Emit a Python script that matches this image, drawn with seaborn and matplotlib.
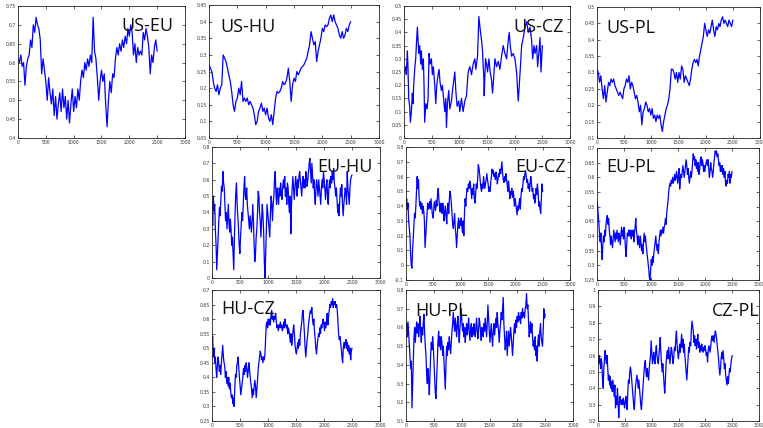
import numpy as np
import pandas as pd
import matplotlib
matplotlib.use("Agg")
import matplotlib.pyplot as plt
import seaborn as sns

# Rolling correlations between equity markets, by trading day (0..2500).
# Most series are sampled at evenly spaced days; US-CZ carries its own days.

US_EU = [0.61,0.60,0.62,0.59,0.60,0.54,0.59,0.61,0.62,0.66,
         0.64,0.70,0.68,0.72,0.70,0.69,0.66,0.57,0.61,0.58,
         0.55,0.50,0.56,0.52,0.49,0.53,0.46,0.51,0.45,0.49,
         0.52,0.47,0.53,0.48,0.51,0.45,0.50,0.44,0.49,0.53,
         0.47,0.51,0.48,0.53,0.50,0.55,0.58,0.56,0.60,0.58,
         0.61,0.59,0.62,0.60,0.72,0.63,0.61,0.56,0.50,0.55,
         0.58,0.55,0.57,0.49,0.43,0.50,0.55,0.52,0.57,0.56,
         0.61,0.64,0.62,0.65,0.63,0.66,0.64,0.67,0.65,0.69,
         0.67,0.70,0.68,0.62,0.65,0.60,0.64,0.62,0.63,0.62,
         0.68,0.66,0.69,0.67,0.64,0.57,0.62,0.60,0.64,0.66,
         0.63]

US_HU = [0.27,0.26,0.25,0.22,0.20,0.19,0.21,0.18,0.20,0.21,
         0.30,0.29,0.28,0.26,0.24,0.22,0.19,0.15,0.13,0.16,
         0.17,0.20,0.18,0.22,0.16,0.17,0.16,0.17,0.15,0.16,
         0.15,0.14,0.12,0.09,0.10,0.13,0.14,0.155,0.13,0.14,
         0.12,0.14,0.11,0.10,0.12,0.09,0.13,0.17,0.19,0.185,
         0.19,0.20,0.22,0.21,0.215,0.23,0.26,0.22,0.16,0.21,
         0.23,0.22,0.25,0.24,0.25,0.26,0.265,0.27,0.28,0.29,
         0.31,0.33,0.37,0.35,0.33,0.34,0.28,0.31,0.33,0.35,
         0.38,0.37,0.39,0.385,0.39,0.41,0.42,0.40,0.42,0.40,
         0.39,0.38,0.36,0.35,0.37,0.35,0.36,0.38,0.37,0.39,
         0.40]

US_CZ_DAYS = [0,30,42,60,72,85,103,115,133,151,
              163,175,193,211,223,242,266,284,302,314,
              332,350,362,374,393,417,435,453,471,495,
              513,531,556,574,592,616,634,652,676,694,
              719,737,755,767,785,809,827,857,888,918,
              936,960,990,1008,1039,1069,1099,1129,1159,1190,
              1220,1250,1280,1298,1329,1353,1383,1401,1419,1431,
              1443,1449,1473,1492,1510,1534,1558,1582,1600,1618,
              1643,1673,1703,1733,1763,1793,1824,1854,1884,1902,
              1920,1944,1975,2005,2035,2053,2065,2083,2107,2126,
              2156,2186,2216,2246,2277,2307,2325,2349,2367,2397,
              2415,2440,2458,2476,2500]
US_CZ = [0.25,0.27,0.24,0.33,0.27,0.15,0.12,0.06,0.10,0.17,
         0.13,0.20,0.26,0.30,0.35,0.42,0.32,0.35,0.28,0.33,
         0.26,0.30,0.20,0.06,0.13,0.11,0.15,0.32,0.28,0.30,
         0.24,0.27,0.20,0.13,0.20,0.24,0.26,0.21,0.18,0.20,
         0.14,0.10,0.15,0.04,0.13,0.18,0.11,0.14,0.20,0.25,
         0.18,0.12,0.14,0.10,0.15,0.10,0.14,0.16,0.25,0.27,
         0.24,0.28,0.30,0.26,0.31,0.46,0.40,0.37,0.33,0.27,
         0.23,0.16,0.30,0.28,0.25,0.30,0.25,0.22,0.17,0.22,
         0.30,0.27,0.29,0.26,0.31,0.35,0.32,0.30,0.37,0.40,
         0.35,0.31,0.32,0.30,0.25,0.18,0.14,0.20,0.28,0.35,
         0.38,0.42,0.44,0.40,0.42,0.37,0.30,0.35,0.32,0.35,
         0.27,0.33,0.38,0.25,0.35]

US_PL = [0.31,0.30,0.27,0.29,0.25,0.22,0.26,0.21,0.24,0.27,
         0.26,0.28,0.27,0.28,0.26,0.25,0.24,0.23,0.24,0.23,
         0.22,0.25,0.26,0.28,0.27,0.29,0.25,0.27,0.26,0.24,
         0.22,0.23,0.21,0.18,0.20,0.14,0.18,0.19,0.21,0.20,
         0.18,0.19,0.17,0.19,0.16,0.17,0.15,0.17,0.16,0.17,
         0.14,0.12,0.15,0.17,0.19,0.20,0.22,0.25,0.31,0.31,
         0.30,0.28,0.30,0.27,0.30,0.28,0.32,0.31,0.27,0.29,
         0.28,0.27,0.26,0.28,0.31,0.33,0.34,0.33,0.34,0.32,
         0.35,0.37,0.39,0.41,0.45,0.43,0.41,0.43,0.42,0.44,
         0.46,0.43,0.41,0.44,0.43,0.45,0.44,0.46,0.47,0.45,
         0.46,0.45,0.44,0.46,0.45,0.44,0.46]

EU_HU = [0.47,0.32,0.50,0.41,0.45,0.29,0.20,0.05,0.15,0.26,
         0.35,0.43,0.38,0.48,0.56,0.53,0.65,0.58,0.55,0.45,
         0.35,0.40,0.30,0.37,0.45,0.33,0.28,0.36,0.30,0.20,
         0.25,0.15,0.05,0.25,0.40,0.52,0.58,0.45,0.38,0.30,
         0.20,0.15,0.25,0.33,0.40,0.35,0.45,0.55,0.62,0.50,
         0.48,0.55,0.45,0.40,0.35,0.30,0.38,0.33,0.28,0.35,
         0.45,0.35,0.20,0.10,0.15,0.25,0.30,0.40,0.53,0.50,
         0.40,0.35,0.25,0.35,0.45,0.38,0.28,0.10,0.00,0.15,
         0.30,0.45,0.40,0.35,0.30,0.25,0.40,0.50,0.45,0.35,
         0.45,0.50,0.60,0.65,0.52,0.45,0.55,0.50,0.45,0.55,
         0.50,0.58,0.52,0.48,0.55,0.60,0.55,0.62,0.50,0.55,
         0.45,0.58,0.55,0.45,0.40,0.50,0.27,0.45,0.55,0.62,
         0.55,0.48,0.55,0.62,0.58,0.50,0.60,0.55,0.62,0.65,
         0.60,0.55,0.50,0.58,0.62,0.55,0.60,0.55,0.65,0.62,
         0.56,0.60,0.65,0.70,0.73,0.65,0.58,0.70,0.62,0.55,
         0.60,0.50,0.45,0.55,0.60,0.55,0.50,0.60,0.55,0.50,
         0.45,0.55,0.60,0.55,0.65,0.60,0.55,0.48,0.55,0.60,
         0.50,0.45,0.55,0.60,0.55,0.62,0.58,0.65,0.60,0.67,
         0.58,0.55,0.50,0.55,0.48,0.40,0.45,0.38,0.48,0.55,
         0.50,0.57,0.45,0.38,0.45,0.50,0.55,0.52,0.45,0.65,
         0.55,0.50,0.45,0.55,0.60,0.62,0.63]

EU_CZ = [0.40,0.45,0.38,0.42,0.30,0.25,0.20,0.08,0.00,-0.02,
         0.10,0.18,0.25,0.35,0.32,0.40,0.50,0.60,0.52,0.58,
         0.45,0.40,0.43,0.38,0.42,0.35,0.40,0.37,0.30,0.12,
         0.20,0.28,0.35,0.42,0.38,0.40,0.43,0.38,0.45,0.40,
         0.35,0.32,0.36,0.43,0.40,0.37,0.44,0.40,0.48,0.52,
         0.45,0.40,0.36,0.42,0.38,0.35,0.42,0.38,0.30,0.36,
         0.40,0.33,0.28,0.38,0.42,0.35,0.45,0.50,0.47,0.42,
         0.35,0.28,0.25,0.30,0.35,0.25,0.20,0.12,0.20,0.28,
         0.32,0.25,0.30,0.27,0.32,0.26,0.22,0.30,0.20,0.35,
         0.45,0.40,0.48,0.52,0.50,0.55,0.52,0.57,0.55,0.50,
         0.45,0.52,0.48,0.55,0.45,0.42,0.48,0.55,0.52,0.58,
         0.68,0.66,0.62,0.57,0.52,0.50,0.55,0.52,0.60,0.56,
         0.52,0.55,0.58,0.62,0.58,0.55,0.50,0.53,0.50,0.56,
         0.60,0.65,0.62,0.64,0.60,0.62,0.58,0.63,0.60,0.55,
         0.58,0.62,0.60,0.65,0.62,0.66,0.70,0.62,0.58,0.56,
         0.60,0.57,0.62,0.58,0.55,0.50,0.57,0.52,0.45,0.50,
         0.48,0.52,0.46,0.50,0.47,0.40,0.45,0.42,0.38,0.34,
         0.40,0.37,0.42,0.45,0.38,0.47,0.52,0.50,0.55,0.60,
         0.58,0.62,0.64,0.60,0.56,0.58,0.52,0.55,0.50,0.56,
         0.60,0.55,0.50,0.52,0.45,0.48,0.42,0.45,0.52,0.48,
         0.55,0.50,0.40,0.43,0.38,0.35,0.45,0.55,0.50]

EU_PL = [0.52,0.50,0.47,0.44,0.40,0.38,0.41,0.36,0.32,0.37,
         0.40,0.38,0.42,0.40,0.44,0.46,0.47,0.44,0.46,0.42,
         0.40,0.37,0.40,0.38,0.36,0.39,0.42,0.40,0.38,0.41,
         0.39,0.42,0.40,0.38,0.41,0.40,0.37,0.40,0.43,0.40,
         0.42,0.39,0.43,0.40,0.36,0.33,0.37,0.41,0.40,0.42,
         0.40,0.42,0.41,0.39,0.42,0.40,0.42,0.38,0.41,0.43,
         0.46,0.42,0.40,0.37,0.40,0.38,0.36,0.40,0.38,0.35,
         0.37,0.34,0.38,0.41,0.38,0.40,0.37,0.35,0.33,0.31,
         0.29,0.26,0.25,0.28,0.32,0.30,0.33,0.31,0.34,0.36,
         0.38,0.40,0.37,0.35,0.37,0.34,0.38,0.40,0.42,0.40,
         0.42,0.41,0.43,0.41,0.43,0.44,0.46,0.44,0.48,0.50,
         0.52,0.55,0.57,0.58,0.57,0.59,0.58,0.60,0.58,0.59,
         0.61,0.59,0.60,0.62,0.60,0.58,0.61,0.63,0.56,0.59,
         0.61,0.60,0.62,0.64,0.62,0.60,0.62,0.64,0.66,0.64,
         0.61,0.63,0.60,0.58,0.60,0.62,0.60,0.62,0.65,0.68,
         0.66,0.67,0.64,0.66,0.63,0.65,0.62,0.65,0.61,0.63,
         0.66,0.67,0.64,0.66,0.65,0.62,0.64,0.62,0.64,0.65,
         0.66,0.64,0.66,0.63,0.60,0.62,0.65,0.63,0.62,0.60,
         0.62,0.65,0.67,0.69,0.68,0.69,0.67,0.68,0.66,0.64,
         0.65,0.62,0.64,0.62,0.64,0.61,0.63,0.60,0.62,0.58,
         0.57,0.59,0.58,0.61,0.60,0.62,0.58,0.61,0.60,0.62]

HU_CZ = [0.52,0.54,0.47,0.50,0.45,0.47,0.43,0.40,0.44,0.47,
         0.45,0.42,0.44,0.41,0.45,0.48,0.51,0.47,0.45,0.44,
         0.40,0.42,0.38,0.40,0.37,0.40,0.36,0.38,0.35,0.33,
         0.34,0.31,0.33,0.30,0.36,0.41,0.40,0.44,0.45,0.47,
         0.43,0.40,0.37,0.34,0.36,0.38,0.40,0.43,0.41,0.44,
         0.42,0.45,0.43,0.40,0.42,0.45,0.43,0.40,0.38,0.36,
         0.33,0.36,0.34,0.37,0.39,0.37,0.33,0.36,0.39,0.43,
         0.45,0.47,0.49,0.48,0.46,0.47,0.45,0.47,0.46,0.48,
         0.53,0.58,0.59,0.57,0.60,0.58,0.60,0.58,0.61,0.63,
         0.60,0.61,0.59,0.61,0.60,0.62,0.59,0.57,0.58,0.56,
         0.58,0.57,0.59,0.57,0.58,0.56,0.57,0.59,0.57,0.60,
         0.58,0.57,0.58,0.55,0.57,0.56,0.54,0.52,0.55,0.51,
         0.53,0.56,0.58,0.55,0.51,0.49,0.48,0.50,0.52,0.50,
         0.53,0.51,0.55,0.57,0.59,0.62,0.63,0.59,0.55,0.50,
         0.47,0.50,0.53,0.55,0.58,0.60,0.62,0.63,0.62,0.64,
         0.60,0.58,0.60,0.56,0.53,0.50,0.48,0.51,0.53,0.55,
         0.54,0.57,0.55,0.58,0.57,0.59,0.60,0.58,0.56,0.59,
         0.57,0.59,0.62,0.58,0.61,0.63,0.65,0.64,0.66,0.65,
         0.67,0.64,0.66,0.65,0.66,0.64,0.65,0.63,0.59,0.55,
         0.53,0.54,0.52,0.50,0.47,0.45,0.50,0.52,0.50,0.52,
         0.53,0.50,0.52,0.49,0.51,0.48,0.50,0.46,0.49,0.50]

HU_PL = [0.58,0.62,0.55,0.63,0.57,0.50,0.45,0.38,0.42,0.17,
         0.30,0.45,0.55,0.60,0.52,0.58,0.63,0.57,0.62,0.55,
         0.60,0.66,0.58,0.52,0.60,0.56,0.63,0.67,0.57,0.50,
         0.45,0.35,0.30,0.38,0.32,0.24,0.35,0.45,0.52,0.48,
         0.55,0.50,0.42,0.35,0.25,0.22,0.32,0.42,0.52,0.58,
         0.50,0.55,0.48,0.55,0.52,0.45,0.50,0.42,0.35,0.27,
         0.40,0.50,0.45,0.52,0.48,0.55,0.50,0.46,0.52,0.58,
         0.62,0.68,0.62,0.58,0.65,0.60,0.55,0.62,0.66,0.58,
         0.52,0.60,0.65,0.70,0.62,0.58,0.62,0.55,0.60,0.52,
         0.58,0.62,0.56,0.60,0.65,0.58,0.53,0.58,0.62,0.55,
         0.60,0.56,0.62,0.58,0.55,0.60,0.65,0.58,0.54,0.60,
         0.65,0.62,0.57,0.53,0.60,0.58,0.55,0.62,0.58,0.65,
         0.60,0.55,0.62,0.72,0.65,0.57,0.52,0.57,0.62,0.55,
         0.50,0.58,0.62,0.56,0.60,0.65,0.60,0.68,0.62,0.58,
         0.52,0.58,0.62,0.68,0.64,0.70,0.76,0.62,0.55,0.48,
         0.52,0.58,0.45,0.52,0.58,0.50,0.55,0.60,0.56,0.50,
         0.45,0.52,0.58,0.62,0.57,0.64,0.60,0.66,0.63,0.68,
         0.64,0.66,0.62,0.68,0.65,0.70,0.66,0.68,0.65,0.70,
         0.72,0.78,0.70,0.72,0.63,0.55,0.60,0.63,0.57,0.62,
         0.55,0.50,0.53,0.48,0.55,0.45,0.50,0.42,0.52,0.56,
         0.50,0.58,0.62,0.55,0.52,0.50,0.58,0.70,0.65,0.67]

CZ_PL = [0.58,0.55,0.60,0.57,0.52,0.58,0.55,0.45,0.40,0.52,
         0.58,0.63,0.58,0.55,0.60,0.52,0.45,0.48,0.42,0.47,
         0.40,0.44,0.38,0.45,0.40,0.35,0.42,0.28,0.35,0.30,
         0.40,0.32,0.22,0.30,0.35,0.32,0.30,0.33,0.30,0.34,
         0.31,0.28,0.32,0.35,0.30,0.27,0.38,0.45,0.43,0.50,
         0.53,0.50,0.45,0.40,0.35,0.30,0.27,0.35,0.42,0.45,
         0.48,0.45,0.40,0.45,0.40,0.35,0.30,0.27,0.33,0.38,
         0.45,0.50,0.55,0.57,0.50,0.47,0.52,0.48,0.45,0.52,
         0.56,0.60,0.69,0.62,0.55,0.58,0.62,0.57,0.55,0.62,
         0.66,0.60,0.57,0.55,0.60,0.65,0.71,0.62,0.55,0.50,
         0.55,0.48,0.42,0.37,0.45,0.55,0.60,0.63,0.58,0.65,
         0.60,0.55,0.60,0.65,0.63,0.58,0.55,0.60,0.65,0.63,
         0.70,0.75,0.67,0.62,0.58,0.62,0.67,0.62,0.68,0.73,
         0.65,0.70,0.62,0.67,0.60,0.55,0.50,0.45,0.52,0.60,
         0.65,0.62,0.68,0.66,0.75,0.81,0.78,0.75,0.68,0.72,
         0.66,0.70,0.64,0.68,0.73,0.65,0.68,0.62,0.66,0.63,
         0.67,0.64,0.62,0.65,0.63,0.66,0.64,0.60,0.62,0.56,
         0.63,0.66,0.64,0.62,0.66,0.70,0.72,0.69,0.72,0.68,
         0.72,0.75,0.73,0.70,0.66,0.62,0.58,0.52,0.48,0.52,
         0.58,0.62,0.58,0.63,0.58,0.52,0.55,0.48,0.45,0.42,
         0.47,0.43,0.48,0.52,0.50,0.55,0.58,0.60]

LAST_DAY = 2500
X_TICKS = [0, 500, 1000, 1500, 2000, 2500, 3000]

# name, values, days (None = evenly spaced), y range (lo, hi, step)
SERIES = [
    ("US-EU", US_EU, None, (0.40, 0.75, 0.05)),
    ("US-HU", US_HU, None, (0.05, 0.45, 0.05)),
    ("US-CZ", US_CZ, US_CZ_DAYS, (0.00, 0.50, 0.05)),
    ("US-PL", US_PL, None, (0.10, 0.50, 0.05)),
    ("EU-HU", EU_HU, None, (0.0, 0.8, 0.1)),
    ("EU-CZ", EU_CZ, None, (-0.1, 0.8, 0.1)),
    ("EU-PL", EU_PL, None, (0.25, 0.70, 0.05)),
    ("HU-CZ", HU_CZ, None, (0.25, 0.70, 0.05)),
    ("HU-PL", HU_PL, None, (0.1, 0.8, 0.1)),
    ("CZ-PL", CZ_PL, None, (0.2, 1.0, 0.1)),
]

# Panel boxes in pixels (left, top, right, bottom) and label anchor in axes fractions
W, H = 763, 428
LAYOUT = {
    "US-EU": ((18, 6, 185, 138), (0.62, 0.813)),
    "US-HU": ((209, 5, 379, 138), (0.065, 0.797)),
    "US-CZ": ((404, 6, 570, 138), (0.657, 0.803)),
    "US-PL": ((597, 7, 760, 138), (0.055, 0.80)),
    "EU-HU": ((212, 147, 380, 278), (0.625, 0.81)),
    "EU-CZ": ((406, 147, 570, 280), (0.665, 0.814)),
    "EU-PL": ((597, 148, 759, 280), (0.055, 0.82)),
    "HU-CZ": ((212, 290, 380, 421), (0.055, 0.817)),
    "HU-PL": ((406, 290, 573, 421), (0.054, 0.80)),
    "CZ-PL": ((598, 290, 759, 421), (0.705, 0.80)),
}

sns.set_style("ticks")
plt.rcParams["font.family"] = ["DejaVu Sans"]

fig = plt.figure(figsize=(W / 100, H / 100), dpi=100)
fig.patch.set_facecolor("white")

for name, values, days, (lo, hi, step) in SERIES:
    (l, t, r, b), (tx, ty) = LAYOUT[name]
    ax = fig.add_axes([l / W, 1 - b / H, (r - l) / W, (b - t) / H])
    if days is None:
        days = np.linspace(0, LAST_DAY, len(values))
    df = pd.DataFrame({"day": np.asarray(days, float), "corr": values})
    sns.lineplot(data=df, x="day", y="corr", ax=ax, color="#0000ff",
                 linewidth=0.9, estimator=None, sort=False)
    ax.set_xlim(0, 3000)
    ax.set_ylim(lo, hi)
    yt = np.round(np.arange(lo, hi + step / 2, step), 3)
    ax.set_yticks(yt)
    ax.set_yticklabels([f"{v:g}" for v in yt])
    ax.set_xticks(X_TICKS)
    ax.set_xticklabels([str(v) for v in X_TICKS])
    ax.set_xlabel("")
    ax.set_ylabel("")
    ax.tick_params(direction="in", length=2, width=0.5, labelsize=3.3,
                   pad=1.5, top=True, right=True, labelcolor="#333333",
                   color="#222222")
    for sp in ax.spines.values():
        sp.set_visible(True)
        sp.set_linewidth(0.6)
        sp.set_color("#222222")
    ax.text(tx, ty, name, transform=ax.transAxes, fontsize=13,
            family=["Open Sans", "DejaVu Sans"], ha="left", va="baseline",
            color="#111111")

fig.savefig("out.png", dpi=100, facecolor="white")
